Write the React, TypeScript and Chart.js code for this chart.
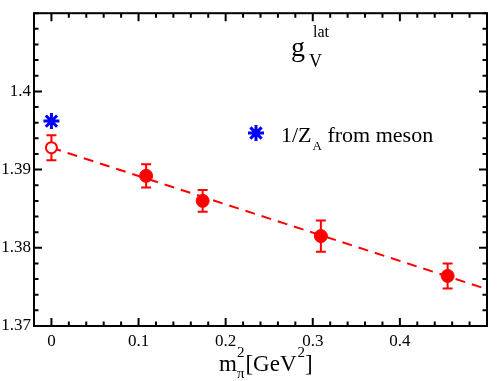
import React, { useEffect, useRef } from "react";
import { Chart, registerables } from "chart.js";
Chart.register(...registerables);

// Lattice data points (filled circles)
const latticeX = [0.1087, 0.1736, 0.3093, 0.4548];
const latticeY = [1.3892, 1.386, 1.3815, 1.3764];
const latticeErr = [0.0015, 0.0014, 0.002, 0.0016];
// Chiral extrapolation (open circle)
const chiralX = [0];
const chiralY = [1.3928];
const chiralErr = [0.0016];
// 1/Z_A from meson (star)
const mesonX = [0];
const mesonY = [1.3962];
// Linear fit (dashed line) end points
const fitX = [0, 0.5];
const fitY = [1.3928, 1.3747];
// Axes
const xTicks = [0, 0.1, 0.2, 0.3, 0.4];
const yTicks = [1.37, 1.38, 1.39, 1.4];
const xMinor = 0.02;
const yMinor = 0.002;
const xRange = [-0.02, 0.5];
const yRange = [1.37, 1.41];

const RED = "#ff0000";
const BLUE = "#0000ff";
const SERIF = "'Liberation Serif', 'Times New Roman', serif";

const framePlugin = {
  id: "frame",
  beforeDatasetsDraw(chart: any) {
    const ctx = chart.ctx;
    const xs = chart.scales.x;
    const ys = chart.scales.y;
    ctx.save();
    ctx.strokeStyle = RED;
    ctx.lineWidth = 2;
    const drawErr = (xArr: number[], yArr: number[], eArr: number[]) => {
      xArr.forEach((xv, i) => {
        const px = xs.getPixelForValue(xv);
        const top = ys.getPixelForValue(yArr[i] + eArr[i]);
        const bot = ys.getPixelForValue(yArr[i] - eArr[i]);
        ctx.beginPath();
        ctx.moveTo(px, top);
        ctx.lineTo(px, bot);
        ctx.moveTo(px - 5, top);
        ctx.lineTo(px + 5, top);
        ctx.moveTo(px - 5, bot);
        ctx.lineTo(px + 5, bot);
        ctx.stroke();
      });
    };
    drawErr(latticeX, latticeY, latticeErr);
    drawErr(chiralX, chiralY, chiralErr);
    ctx.restore();
  },
  afterDraw(chart: any) {
    const ctx = chart.ctx;
    const a = chart.chartArea;
    const xs = chart.scales.x;
    const ys = chart.scales.y;
    ctx.save();
    ctx.strokeStyle = "#000";
    ctx.lineWidth = 2;
    ctx.strokeRect(a.left, a.top, a.right - a.left, a.bottom - a.top);
    ctx.beginPath();
    const isMajor = (v: number, arr: number[]) => arr.some((t) => Math.abs(t - v) < 1e-9);
    const nx = Math.round((xRange[1] - xRange[0]) / xMinor);
    for (let i = 0; i <= nx; i++) {
      const v = +(xRange[0] + i * xMinor).toFixed(6);
      const len = isMajor(v, xTicks) ? 8 : 4.5;
      const px = xs.getPixelForValue(v);
      ctx.moveTo(px, a.bottom);
      ctx.lineTo(px, a.bottom - len);
      ctx.moveTo(px, a.top);
      ctx.lineTo(px, a.top + len);
    }
    const ny = Math.round((yRange[1] - yRange[0]) / yMinor);
    for (let i = 0; i <= ny; i++) {
      const v = +(yRange[0] + i * yMinor).toFixed(6);
      const len = isMajor(v, yTicks) ? 8 : 4.5;
      const py = ys.getPixelForValue(v);
      ctx.moveTo(a.left, py);
      ctx.lineTo(a.left + len, py);
      ctx.moveTo(a.right, py);
      ctx.lineTo(a.right - len, py);
    }
    ctx.stroke();

    // texts
    ctx.fillStyle = "#000";
    ctx.textBaseline = "alphabetic";
    ctx.textAlign = "left";
    const put = (t: string, x: number, y: number, size: number) => {
      ctx.font = `${size}px ${SERIF}`;
      ctx.fillText(t, x, y);
      return x + ctx.measureText(t).width;
    };
    // g_V^lat
    put("g", 291, 56, 28);
    put("V", 309, 67, 18);
    put("lat", 313, 37, 16);

    // legend
    const sx = 256, sy = 133;
    ctx.strokeStyle = BLUE;
    ctx.lineWidth = 3;
    ctx.beginPath();
    const r = 8;
    for (let k = 0; k < 4; k++) {
      const ang = (k * Math.PI) / 4;
      ctx.moveTo(sx - r * Math.sin(ang), sy - r * Math.cos(ang));
      ctx.lineTo(sx + r * Math.sin(ang), sy + r * Math.cos(ang));
    }
    ctx.stroke();
    let x = put("1/Z", 281, 142, 22);
    x = put("A", x + 1, 150, 13);
    put(" from meson", x, 142, 22);

    // x axis title
    let tx = put("m", 219, 371, 23);
    put("2", tx, 357, 15);
    tx = put("π", tx, 378, 15);
    tx = put("[GeV", tx + 1, 371, 23);
    tx = put("2", tx + 1, 357, 15);
    put("]", tx, 371, 23);
    ctx.restore();
  },
};

export default function App() {
  const ref = useRef<HTMLCanvasElement>(null);
  useEffect(() => {
    if (!ref.current) return;
    const chart = new Chart(ref.current, {
      type: "scatter",
      data: {
        datasets: [
          {
            label: "meson",
            data: mesonX.map((x, i) => ({ x, y: mesonY[i] })),
            pointStyle: "star",
            pointRadius: 8,
            borderColor: BLUE,
            backgroundColor: BLUE,
            borderWidth: 3,
            order: 0,
          },
          {
            label: "lattice",
            data: latticeX.map((x, i) => ({ x, y: latticeY[i] })),
            pointStyle: "circle",
            pointRadius: 6.5,
            borderColor: RED,
            backgroundColor: RED,
            borderWidth: 1,
            order: 1,
          },
          {
            label: "chiral",
            data: chiralX.map((x, i) => ({ x, y: chiralY[i] })),
            pointStyle: "circle",
            pointRadius: 5.5,
            borderColor: RED,
            backgroundColor: "#ffffff",
            borderWidth: 2,
            order: 2,
          },
          {
            type: "line" as any,
            label: "fit",
            data: fitX.map((x, i) => ({ x, y: fitY[i] })),
            showLine: true,
            pointRadius: 0,
            borderColor: RED,
            borderWidth: 2,
            borderDash: [10, 7],
            fill: false,
            order: 10,
          },
        ],
      },
      options: {
        animation: false,
        responsive: true,
        maintainAspectRatio: false,
        events: [],
        layout: { padding: { top: 2, right: 2, left: 0, bottom: 0 } },
        plugins: { legend: { display: false }, tooltip: { enabled: false } },
        scales: {
          x: {
            type: "linear",
            min: xRange[0],
            max: xRange[1],
            grid: { display: false, drawTicks: false },
            border: { display: false },
            afterBuildTicks: (s: any) => {
              s.ticks = xTicks.map((v) => ({ value: v }));
            },
            afterFit: (s: any) => {
              s.height = 55;
            },
            ticks: {
              padding: 5,
              maxRotation: 0,
              autoSkip: false,
              color: "#000",
              font: { family: SERIF, size: 17 },
              callback: (v: any) => String(+(+v).toFixed(2)),
            },
          },
          y: {
            type: "linear",
            min: yRange[0],
            max: yRange[1],
            grid: { display: false, drawTicks: false },
            border: { display: false },
            afterBuildTicks: (s: any) => {
              s.ticks = yTicks.map((v) => ({ value: v }));
            },
            afterFit: (s: any) => {
              s.width = 34;
            },
            ticks: {
              padding: 3,
              autoSkip: false,
              color: "#000",
              font: { family: SERIF, size: 17 },
              callback: (v: any) => String(+(+v).toFixed(3)),
            },
          },
        },
      },
      plugins: [framePlugin],
    } as any);
    return () => chart.destroy();
  }, []);
  return (
    <div style={{ position: "absolute", left: 0, top: 0, width: 498, height: 381, background: "#fff" }}>
      <canvas ref={ref} />
    </div>
  );
}
